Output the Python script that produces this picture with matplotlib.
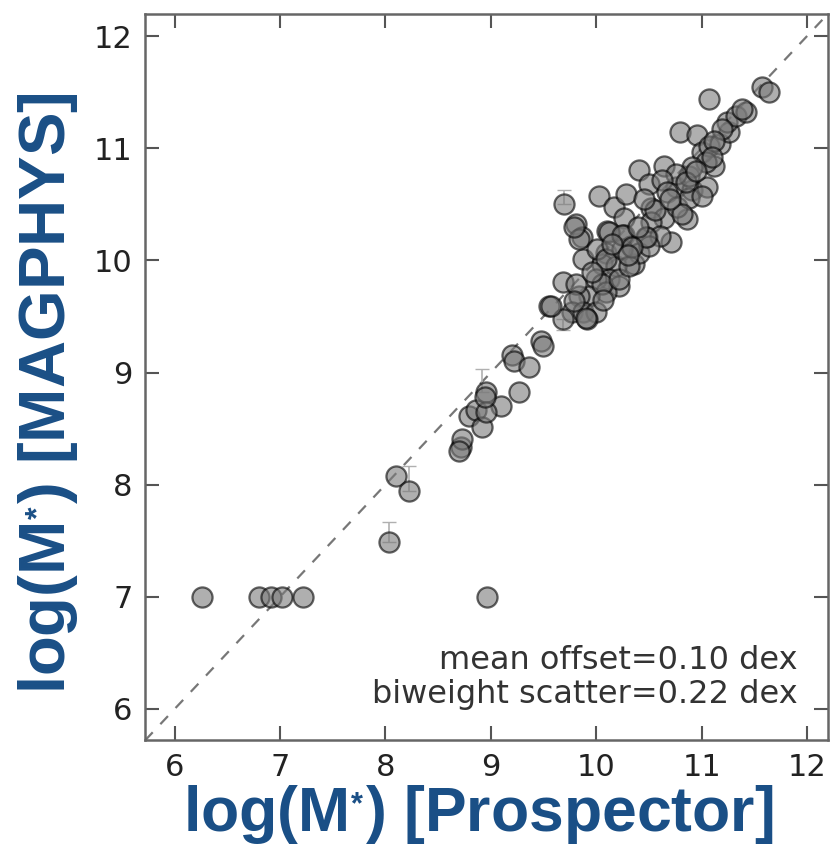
import numpy as np
import matplotlib
matplotlib.use('Agg')
import matplotlib.pyplot as plt

plt.rcParams['mathtext.fontset'] = 'custom'
plt.rcParams['mathtext.rm'] = 'Liberation Sans:bold'
plt.rcParams['mathtext.it'] = 'Liberation Sans:bold'
plt.rcParams['mathtext.bf'] = 'Liberation Sans:bold'

# stellar masses: Prospector (x) vs MAGPHYS (y)
prospector = [
    9.69, 9.81, 9.86, 9.87, 10.03, 10.17, 10.28, 10.26, 10.10, 10.26,
    10.41, 10.50, 10.64, 10.52, 10.64, 10.48, 10.33, 10.36, 10.71, 10.86,
    10.76, 10.91, 11.05, 10.88, 11.12, 10.79, 10.96, 11.07, 11.00, 11.07,
    11.17, 11.26, 11.24, 11.33, 11.42, 11.38, 11.57, 11.64, 11.19, 11.12,
    11.04, 10.91, 10.76, 10.62, 10.67, 10.77, 10.88, 11.00, 10.81, 10.52,
    10.60, 10.41, 10.50, 10.09, 10.05, 10.19, 10.12, 10.22, 10.00, 10.09,
    9.93, 9.84, 9.77, 9.87, 10.00, 9.91, 9.68, 9.81, 9.55, 9.68,
    9.79, 9.90, 10.05, 10.06, 10.22, 9.84, 9.79, 10.01, 10.09, 10.12,
    10.24, 10.24, 10.31, 10.47, 10.34,
    10.15, 10.40, 10.56, 10.70, 9.96, 10.30, 10.85, 11.10, 10.45, 10.95,
    8.72, 8.73, 8.70, 8.79, 8.86, 8.95, 8.92, 9.10, 8.95, 8.94,
    9.27, 9.20, 9.22, 9.36, 9.48, 9.49, 9.57,
    8.10, 8.22, 8.03,
    6.26, 6.80, 6.91, 7.02, 7.22, 8.96,
]
magphys = [
    10.50, 10.32, 10.21, 10.01, 10.57, 10.48, 10.59, 10.38, 10.26, 10.23,
    10.81, 10.68, 10.84, 10.47, 10.38, 10.21, 10.13, 9.97, 10.16, 10.37,
    10.65, 10.63, 10.65, 10.75, 10.84, 11.14, 11.12, 11.44, 10.97, 11.02,
    11.04, 11.14, 11.23, 11.29, 11.32, 11.35, 11.55, 11.50, 11.17, 11.06,
    10.88, 10.83, 10.77, 10.72, 10.61, 10.48, 10.56, 10.57, 10.41, 10.34,
    10.22, 10.07, 10.13, 10.07, 9.97, 9.95, 9.83, 9.77, 9.83, 9.72,
    9.68, 9.68, 9.54, 9.54, 9.54, 9.48, 9.81, 9.79, 9.59, 9.48,
    9.64, 9.49, 9.79, 9.65, 9.83, 10.19, 10.30, 10.10, 10.01, 10.25,
    10.10, 10.23, 9.95, 10.21, 10.12,
    10.15, 10.30, 10.45, 10.55, 9.90, 10.05, 10.70, 10.92, 10.55, 10.80,
    8.34, 8.41, 8.30, 8.61, 8.67, 8.83, 8.51, 8.70, 8.65, 8.78,
    8.83, 9.16, 9.10, 9.05, 9.28, 9.24, 9.59,
    8.08, 7.94, 7.49,
    7.0, 7.0, 7.0, 7.0, 7.0, 7.0,
]

# the few visible error bars
err_x = [9.69, 8.03, 8.22, 8.92, 9.68]
err_y = [10.50, 7.49, 7.94, 8.83, 9.48]
err_lo = [0.0, 0.0, 0.0, 0.0, 0.10]
err_hi = [0.13, 0.18, 0.23, 0.20, 0.0]

ticks = [6, 7, 8, 9, 10, 11, 12]
lim = (5.72, 12.2)

fig = plt.figure(figsize=(8.34, 8.51), dpi=100)
ax = fig.add_axes([0.174, 0.130, 0.819, 0.854])

ax.plot(lim, lim, ls='--', color='#777777', lw=1.6, dashes=(5, 5), zorder=1)
ax.errorbar(err_x, err_y, yerr=[err_lo, err_hi], fmt='none', ecolor='#b0b0b0',
            elinewidth=1.2, capsize=5, zorder=2)
ax.scatter(prospector, magphys, s=210, facecolor='#7a7a7a', edgecolor='black',
           linewidth=1.6, alpha=0.6, zorder=3)

ax.set_xlim(lim)
ax.set_ylim(lim)
ax.set_xticks(ticks)
ax.set_yticks(ticks)
ax.tick_params(direction='in', length=10, width=1.5, color='#555555',
               top=True, right=True, labelsize=22, labelcolor='#222222', pad=9)
for sp in ax.spines.values():
    sp.set_color('#666666')
    sp.set_linewidth(1.8)

ax.text(0.956, 0.042, 'mean offset=0.10 dex\nbiweight scatter=0.22 dex',
        transform=ax.transAxes, ha='right', va='bottom', fontsize=23,
        color='#333333', linespacing=1.1)

blue = '#1a4f86'
fig.text(0.574, 0.043, r'log(M$^{_{*}}$) [Prospector]', ha='center', va='center',
         fontsize=45, fontweight='bold', family='Liberation Sans', color=blue)
fig.text(0.058, 0.538, r'log(M$^{_{*}}$) [MAGPHYS]', ha='center', va='center',
         rotation=90, fontsize=47, fontweight='bold', family='Liberation Sans',
         color=blue)

fig.savefig('out.png', dpi=100)
